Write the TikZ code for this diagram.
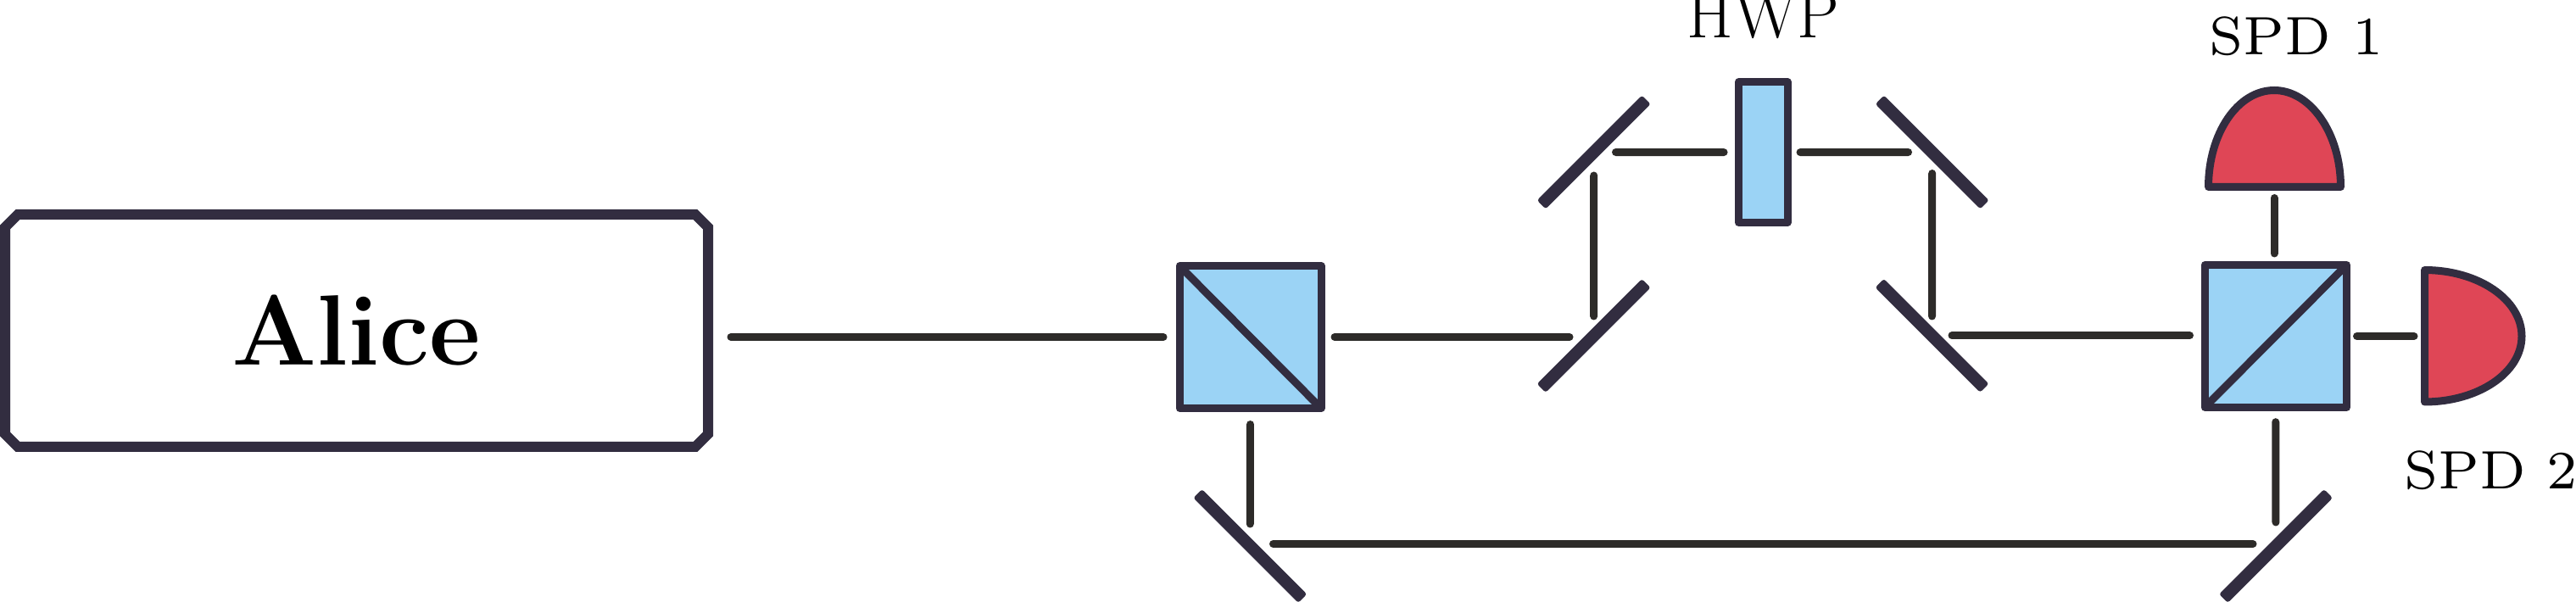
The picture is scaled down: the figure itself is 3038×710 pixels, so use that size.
\documentclass[tikz,border=0pt]{standalone}
\usetikzlibrary{shapes.misc}
\definecolor{frameC}{HTML}{322D40}
\definecolor{beamC}{HTML}{2D2B29}
\definecolor{blueC}{HTML}{9BD3F5}
\definecolor{redC}{HTML}{DF4656}
\tikzset{
  beam/.style={draw=beamC,line width=4.5pt,line cap=round},
  optic/.style={draw=frameC,fill=blueC,line width=4.5pt,line join=round,rectangle,inner sep=0pt,outer sep=0pt},
  mirror/.style={draw=frameC,fill=frameC,line width=3pt,line join=round,rectangle,inner sep=0pt,outer sep=0pt,minimum width=84.5pt,minimum height=4.25pt},
  detector/.style={draw=frameC,fill=redC,line width=4.5pt,line join=round},
  lab/.style={anchor=base,inner sep=0pt},
}
\newcommand{\spdtext}[1]{\scalebox{4.55}{\fontsize{7}{9}\selectfont #1}}
\begin{document}
\begin{tikzpicture}[x=0.5pt,y=-0.5pt]
\useasboundingbox (0,0) rectangle (3038,710);
% Alice
\node[draw=frameC,line width=6pt,chamfered rectangle,chamfered rectangle xsep=3.5pt,chamfered rectangle ysep=4pt,
  minimum width=414.5pt,minimum height=137pt,inner sep=0pt,outer sep=0pt,font=\bfseries\fontsize{59}{62}\selectfont] (alice) at (420.5,390) {Alice};
% beam splitters and plate
\node[optic,minimum width=83.5pt,minimum height=84pt] (bs1) at (1474.5,397.5) {};
\draw[draw=frameC,line width=4.5pt] (bs1.north west) -- (bs1.south east);
\node[optic,minimum width=83.75pt,minimum height=84pt] (bs2) at (2683.75,396.5) {};
\draw[draw=frameC,line width=4.5pt] (bs2.south west) -- (bs2.north east);
\node[optic,minimum width=28.75pt,minimum height=83pt] (hwp) at (2079.3,179.6) {};
% mirrors
\node[mirror,rotate=45] (m1) at (1879.6,396) {};
\node[mirror,rotate=45] (m2) at (1879.7,179.5) {};
\node[mirror,rotate=-45] (m3) at (2278.7,179.5) {};
\node[mirror,rotate=-45] (m4) at (2278.5,395.8) {};
\node[mirror,rotate=-45] (m5) at (1474.3,644) {};
\node[mirror,rotate=45] (m6) at (2684,644) {};
% detectors
\coordinate (d1) at (2682,220.5);
\coordinate (d2) at (2859.5,396.5);
\draw[detector] (2604.5,220.5) .. controls (2604.5,157.5) and (2639,106.5) .. (2682,106.5)
  .. controls (2725,106.5) and (2760.5,157.5) .. (2760.5,220.5) -- cycle;
\draw[detector] (2859.5,318.5) .. controls (2922.7,318.5) and (2974,353.3) .. (2974,396.5)
  .. controls (2974,439.5) and (2922.7,474) .. (2859.5,474) -- cycle;
% beams
\draw[beam,shorten <=13.5pt,shorten >=9.5pt] (alice.east |- bs1.west) -- (bs1.west);
\draw[beam,shorten <=8pt,shorten >=14.3pt] (bs1.east) -- (bs1.east -| m1.center);
\draw[beam,shorten <=11.5pt,shorten >=13.75pt] (m1.center) -- (m2.center);
\draw[beam,shorten <=12.9pt,shorten >=8.75pt] (m2.center) -- (hwp.west);
\draw[beam,shorten <=7.5pt,shorten >=14.1pt] (hwp.east) -- (m3.center);
\draw[beam,shorten <=12.5pt,shorten >=11.4pt] (m3.center) -- (m4.center);
\draw[beam,shorten <=11.75pt,shorten >=8.75pt] (m4.center) -- (m4.center -| bs2.west);
\draw[beam,shorten <=6pt,shorten >=6.25pt] (bs2.east) -- (d2);
\draw[beam,shorten <=6.5pt,shorten >=6.75pt] (d1) -- (d1 |- bs2.north);
\draw[beam,shorten <=9.5pt,shorten >=13pt] (bs1.south) -- (m5.center);
\draw[beam,shorten <=8.6pt,shorten >=14pt] (bs2.south) -- (m6.center);
\draw[beam,shorten <=13.6pt,shorten >=13.5pt] ([yshift=1.25pt]m5.center) -- ([yshift=1.25pt]m6.center);
% labels
\node[lab,font=\fontsize{39.5}{44}\selectfont] (lhwp) at (2079.5,45) {HWP};
\node[lab] (lspd1) at (2708,65) {\spdtext{SPD 1}};
\node[lab] (lspd2) at (2937.5,576.6) {\spdtext{SPD 2}};
\end{tikzpicture}
\end{document}
